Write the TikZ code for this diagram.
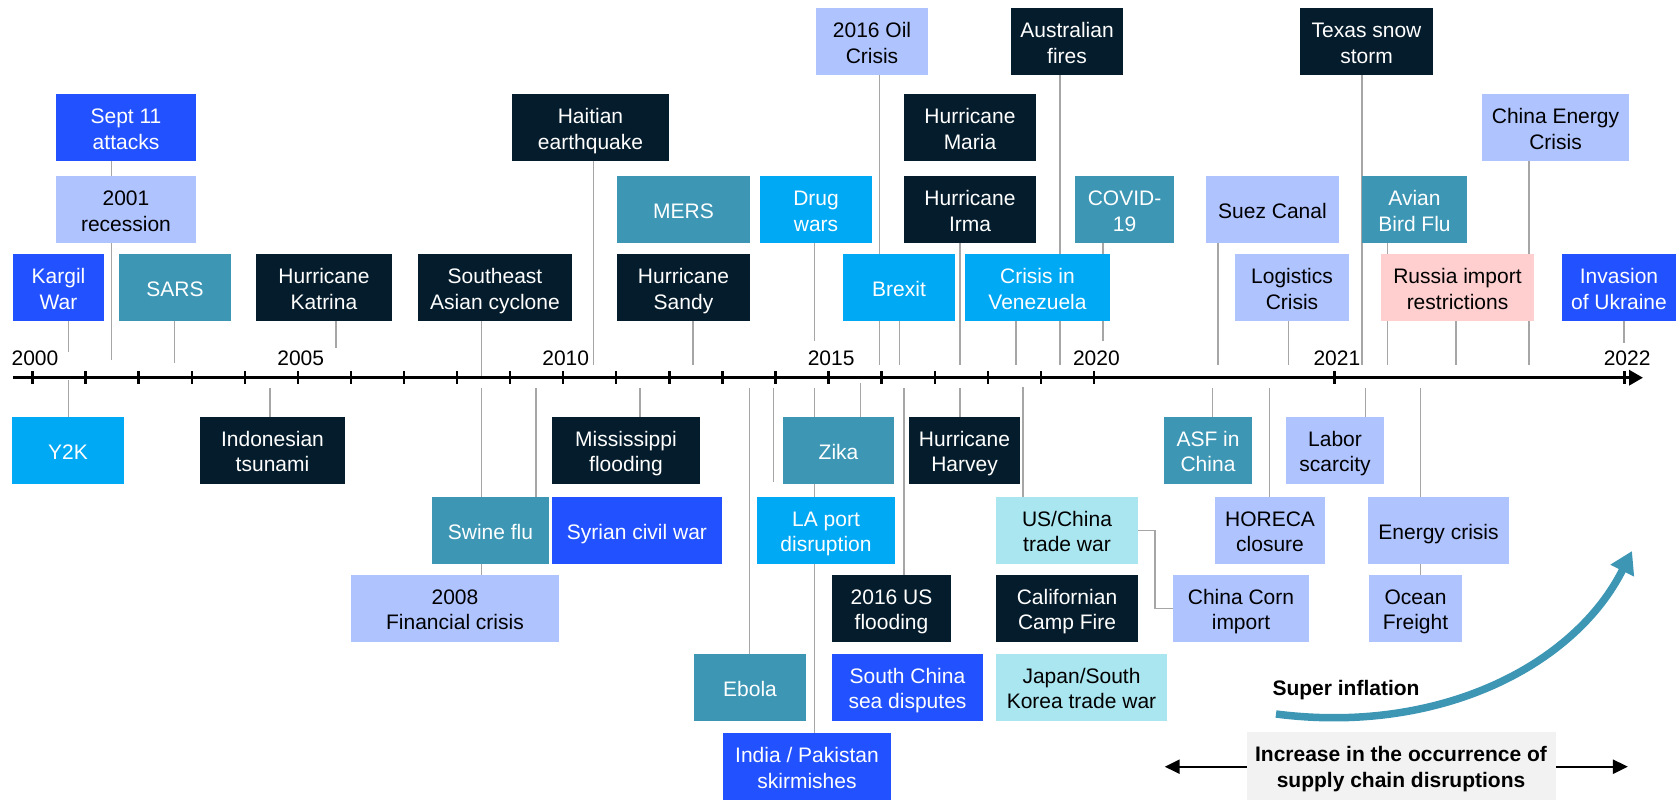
\documentclass[tikz,border=0pt]{standalone}
\usepackage{fontspec}
\setmainfont{Liberation Sans}
\usetikzlibrary{arrows.meta,backgrounds}
\definecolor{navy}{HTML}{051C2C}
\definecolor{eblue}{HTML}{2251FF}
\definecolor{cyanb}{HTML}{00A9F4}
\definecolor{tealb}{HTML}{3C96B4}
\definecolor{peri}{HTML}{AFC3FF}
\definecolor{lcyan}{HTML}{AAE6F0}
\definecolor{pinkb}{HTML}{FFCFCF}
\definecolor{greybox}{HTML}{F2F2F2}
\definecolor{conng}{HTML}{A6A6A6}
\newcommand\fs{\rule{0pt}{22pt}}
\tikzset{
 ev/.style={inner sep=0pt, minimum height=67pt, align=center, font=\fontsize{21}{25.7}\selectfont,
   execute at begin node={\rule{0pt}{22pt}}, execute at end node={\rule[-4.5pt]{0pt}{4.5pt}}},
 dk/.style={ev, fill=navy, text=white},
 bl/.style={ev, fill=eblue, text=white},
 cy/.style={ev, fill=cyanb, text=white},
 tl/.style={ev, fill=tealb, text=white},
 pr/.style={ev, fill=peri, text=black},
 lc/.style={ev, fill=lcyan, text=black},
 pk/.style={ev, fill=pinkb, text=black},
 conn/.style={draw=conng, line width=1.3pt},
 tickmark/.style={line width=2.4pt, black},
 yearlbl/.style={anchor=base, inner sep=0pt, font=\fontsize{21}{26}\selectfont},
}
\newcommand\upl[3]{\coordinate (#1-e) at (#2,#3); \draw[conn] (#1-e |- #1.south) -- (#1-e);}
\newcommand\dnl[3]{\coordinate (#1-e) at (#2,#3); \draw[conn] (#1-e |- #1.north) -- (#1-e);}
\begin{document}
\begin{tikzpicture}[x=1pt,y=-1pt]
\useasboundingbox (0,0) rectangle (1676,800);
% Row A
\node[pr, minimum width=112pt] (oil) at (872,41.5) {\fs2016 Oil\\Crisis};
\node[dk, minimum width=112pt] (ausf) at (1067,41.5) {\fs Australian\\fires};
\node[dk, minimum width=133pt] (texas) at (1366.5,41.5) {\fs Texas snow\\storm};
% Row B
\node[bl, minimum width=140pt] (sept) at (126,127.5) {\fs Sept 11\\attacks};
\node[dk, minimum width=157pt] (haiti) at (590.5,127.5) {\fs Haitian\\earthquake};
\node[dk, minimum width=132pt] (maria) at (970,127.5) {\fs Hurricane\\Maria};
\node[pr, minimum width=147pt] (cnenergy) at (1555.5,127.5) {\fs China Energy\\Crisis};
% Row C
\node[pr, minimum width=140pt] (recess) at (126,209.5) {\fs2001\\recession};
\node[tl, minimum width=133pt] (mers) at (683.5,209.5) {MERS};
\node[cy, minimum width=112pt] (drug) at (816,209.5) {\fs Drug\\wars};
\node[dk, minimum width=132pt] (irma) at (970,209.5) {\fs Hurricane\\Irma};
\node[tl, minimum width=99pt] (covid) at (1124.5,209.5) {\fs COVID-\\19};
\node[pr, minimum width=133pt] (suez) at (1272.5,209.5) {Suez Canal};
\node[tl, minimum width=105pt] (avian) at (1414.5,209.5) {\fs Avian\\Bird Flu};
% Row D
\node[bl, minimum width=91pt] (kargil) at (58.5,287.5) {\fs Kargil\\War};
\node[tl, minimum width=112pt] (sars) at (175,287.5) {SARS};
\node[dk, minimum width=136pt] (katrina) at (324,287.5) {\fs Hurricane\\Katrina};
\node[dk, minimum width=154pt] (seasia) at (495,287.5) {\fs Southeast\\Asian cyclone};
\node[dk, minimum width=133pt] (sandy) at (683.5,287.5) {\fs Hurricane\\Sandy};
\node[cy, minimum width=112pt] (brexit) at (899,287.5) {Brexit};
\node[cy, minimum width=145pt] (venez) at (1037.5,287.5) {\fs Crisis in\\Venezuela};
\node[pr, minimum width=114pt] (logis) at (1292,287.5) {\fs Logistics\\Crisis};
\node[pk, minimum width=153pt] (russia) at (1457.5,287.5) {\fs Russia import\\restrictions};
\node[bl, minimum width=114pt] (ukraine) at (1619,287.5) {\fs Invasion\\of Ukraine};
% Row E
\node[cy, minimum width=112pt] (y2k) at (68,450.3) {Y2K};
\node[dk, minimum width=145pt] (indo) at (272.5,450.3) {\fs Indonesian\\tsunami};
\node[dk, minimum width=148pt] (miss) at (626,450.3) {\fs Mississippi\\flooding};
\node[tl, minimum width=111pt] (zika) at (838.5,450.3) {Zika};
\node[dk, minimum width=111pt] (harvey) at (964.5,450.3) {\fs Hurricane\\Harvey};
\node[tl, minimum width=88pt] (asf) at (1208,450.3) {\fs ASF in\\China};
\node[pr, minimum width=98pt] (labor) at (1335,450.3) {\fs Labor\\scarcity};
% Row F
\node[tl, minimum width=117pt] (swine) at (490.5,530.3) {Swine flu};
\node[bl, minimum width=170pt] (syria) at (637,530.3) {Syrian civil war};
\node[cy, minimum width=138pt] (laport) at (826,530.3) {\fs LA port\\disruption};
\node[lc, minimum width=142pt] (uschina) at (1067,530.3) {\fs US/China\\trade war};
\node[pr, minimum width=110pt] (horeca) at (1270,530.3) {\fs HORECA\\closure};
\node[pr, minimum width=141pt] (energy) at (1438.5,530.3) {Energy crisis};
% Row G
\node[pr, minimum width=208pt] (fin) at (455,608.3) {\fs2008\\Financial crisis};
\node[dk, minimum width=119pt] (usflood) at (891.5,608.3) {\fs2016 US\\flooding};
\node[dk, minimum width=142pt] (camp) at (1067,608.3) {\fs Californian\\Camp Fire};
\node[pr, minimum width=136pt] (corn) at (1241,608.3) {\fs China Corn\\import};
\node[pr, minimum width=93pt] (ocean) at (1415.5,608.3) {\fs Ocean\\Freight};
% Row H
\node[tl, minimum width=112pt] (ebola) at (750,687.3) {Ebola};
\node[bl, minimum width=151pt] (scs) at (907.5,687.3) {\fs South China\\sea disputes};
\node[lc, minimum width=171pt] (japan) at (1081.5,687.3) {\fs Japan/South\\Korea trade war};
% Row I
\node[bl, minimum width=168pt] (india) at (807,766.5) {\fs India / Pakistan\\skirmishes};

% axis
\coordinate (axL) at (12.9,377.7);
\coordinate (axR) at (1643,377.7);
\draw[line width=3.3pt, -{Triangle[length=14pt,width=15pt]}] (axL) -- (axR);
\foreach \i in {0,...,20} \draw[tickmark] ({32.5+53.07*\i},371) -- ({32.5+53.07*\i},384);
\draw[tickmark] (1334.4,371) -- (1334.4,384);
\draw[tickmark] (1624.6,371) -- (1624.6,384);
\node[yearlbl] (l2000) at (35,365.5) {2000};
\node[yearlbl] (l2005) at (300.7,365.5) {2005};
\node[yearlbl] (l2010) at (565.7,365.5) {2010};
\node[yearlbl] (l2015) at (831.1,365.5) {2015};
\node[yearlbl] (l2020) at (1096.4,365.5) {2020};
\node[yearlbl] (l2021) at (1336.9,365.5) {2021};
\node[yearlbl] (l2022) at (1627.1,365.5) {2022};

% super inflation
\node[font=\bfseries\fontsize{21}{26}\selectfont, anchor=base, inner sep=0pt] (super) at (1346,695.7) {Super inflation};
\coordinate (sA) at (1276,714);
\coordinate (sB) at (1632,551);
\draw[tealb, line width=7.5pt, -{Triangle[length=22pt,width=25pt]}] (sA) .. controls (1440,735) and (1575,665) .. (sB);

% increase box
\node[fill=greybox, minimum width=309pt, minimum height=68pt, inner sep=0pt, align=center, font=\bfseries\fontsize{21}{25.7}\selectfont,
  execute at end node={\rule[-4.5pt]{0pt}{4.5pt}}] (incr) at (1401,766) {\fs Increase in the occurrence of\\supply chain disruptions};

\begin{scope}[on background layer]
\upl{kargil}{68.6}{352}
\upl{sept}{111.8}{360.3}
\upl{sars}{174.6}{362.7}
\upl{katrina}{336}{348}
\upl{seasia}{481.8}{377.7}
\upl{haiti}{593.2}{365}
\upl{sandy}{692.9}{365}
\upl{drug}{814.3}{340.7}
\upl{oil}{879.6}{365}
\upl{brexit}{899.3}{365}
\upl{irma}{960}{365}
\upl{venez}{1016}{365}
\upl{ausf}{1060}{365}
\upl{covid}{1102.9}{340.7}
\upl{suez}{1217.9}{365}
\upl{logis}{1288.5}{365}
\upl{texas}{1361.9}{365}
\upl{avian}{1387.7}{365}
\upl{russia}{1456}{365}
\upl{cnenergy}{1529.1}{365}
\upl{ukraine}{1623.9}{343.3}
\dnl{y2k}{68.6}{380}
\dnl{indo}{270}{388}
\dnl{fin}{481.8}{388}
\dnl{swine}{536}{388}
\dnl{miss}{640}{388}
\dnl{ebola}{749.6}{388}
\dnl{india}{814.3}{388}
\dnl{zika}{860.4}{383}
\dnl{usflood}{903.9}{388}
\dnl{harvey}{960}{388}
\dnl{uschina}{1022.9}{387}
\dnl{asf}{1212.4}{388}
\dnl{horeca}{1269.7}{388}
\dnl{labor}{1365.6}{388}
\dnl{ocean}{1420.7}{388}
\coordinate (lpA) at (773.6,388);
\coordinate (lpB) at (773.6,482.3);
\draw[conn] (lpA) -- (lpB);
\coordinate (elb) at (1155.1,530.3);
\draw[conn] (uschina.east) -- (elb) -- (elb |- corn.west) -- (corn.west);
\coordinate (dl) at (1164.7,766.7);
\coordinate (dr) at (1627.9,766.7);
\draw[line width=2.3pt, {Triangle[length=15pt,width=14pt]}-{Triangle[length=15pt,width=14pt]}] (dl) -- (dr);
\end{scope}
\end{tikzpicture}
\end{document}
